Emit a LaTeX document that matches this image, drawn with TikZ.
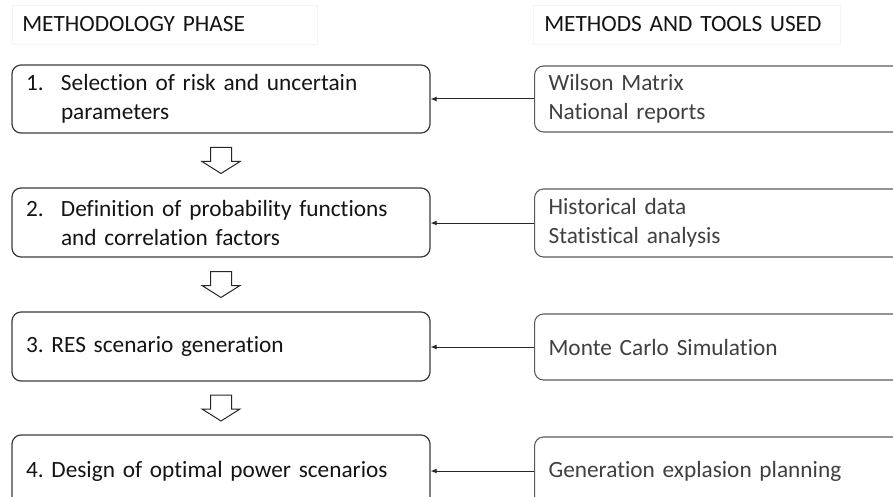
\documentclass[tikz,border=0pt]{standalone}
\usepackage{fontspec}
\setmainfont{Carlito}[Ligatures=NoCommon]
\usetikzlibrary{arrows.meta,calc}
\definecolor{boxline}{HTML}{3A3A3A}
\definecolor{toolline}{HTML}{5A5A5A}
\definecolor{tooltext}{HTML}{404040}
\definecolor{headline}{HTML}{F4F4F4}
\frenchspacing
\newcommand{\diagfont}{\fontsize{23.3}{29}\selectfont\spaceskip=4.2pt plus 1pt minus 1pt\relax}
\begin{document}
\begin{tikzpicture}[x=1pt,y=-1pt,
  txt/.style={font=\diagfont},
  header/.style={txt, draw=headline, line width=0.6pt, minimum height=39pt, inner ysep=0pt, align=left, text=black!92, anchor=west},
  phase/.style={txt, draw=boxline, line width=1.2pt, rounded corners=9pt, minimum width=418pt, text width=390pt, inner xsep=14pt, inner ysep=0pt, align=left, text=black!92},
  tool/.style={txt, draw=toolline, line width=1.1pt, rounded corners=9pt, minimum width=400pt, text width=372pt, inner xsep=14pt, inner ysep=0pt, align=left, text=tooltext, anchor=west},
  feed/.style={draw=black!85, line width=1pt, -{Latex[length=6pt,width=5pt]}},
  hollow/.pic={\draw[draw=black!85, line width=1pt, fill=white, line join=miter] (-10.5,-13) -- (10.5,-13) -- (10.5,1) -- (19,1) -- (0,13) -- (-19,1) -- (-10.5,1) -- cycle;}
]
\useasboundingbox (0,0) rectangle (893,497);
\clip (0,0) rectangle (893,497);

% headers
\node[header, text width=285pt, inner xsep=10pt] (h1) at (12,24.5) {METHODOLOGY PHASE};
\node[header, text width=285pt, inner xsep=11pt] (h2) at (533,24.5) {METHODS AND TOOLS USED};

% phase boxes
\node[phase, minimum height=68pt] (b1) at (221,99) {\makebox[35pt][l]{1.}Selection of risk and uncertain\\\hspace*{35pt}parameters};
\node[phase, minimum height=69pt] (b2) at (221,222.5) {\makebox[35pt][l]{2.}Definition of probability functions\\\hspace*{35pt}and correlation factors};
\node[phase, minimum height=69pt] (b3) at (221,346.5) {3. RES scenario generation};
\node[phase, minimum height=72pt] (b4) at (221,471) {4. Design of optimal power scenarios};

% tool boxes
\node[tool, minimum height=66pt] (t1) at (534,99) {Wilson Matrix\\National reports};
\node[tool, minimum height=68pt] (t2) at (534,223) {Historical data\\Statistical analysis};
\node[tool, minimum height=66pt] (t3) at (534,347) {Monte Carlo Simulation};
\node[tool, minimum height=68pt] (t4) at (534,471) {Generation explasion planning};

% feed arrows
\draw[feed] (t1.west) -- (b1.east |- t1.west);
\draw[feed] (t2.west) -- (b2.east |- t2.west);
\draw[feed] (t3.west) -- (b3.east |- t3.west);
\draw[feed] (t4.west) -- (b4.east |- t4.west);

% hollow flow arrows
\pic at ($(b1.south)!0.5!(b2.north)$) {hollow};
\pic at ($(b2.south)!0.5!(b3.north)$) {hollow};
\pic at ($(b3.south)!0.5!(b4.north)$) {hollow};
\end{tikzpicture}
\end{document}
